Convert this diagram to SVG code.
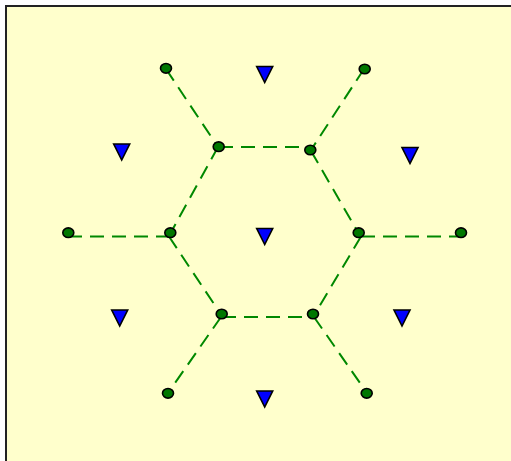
<svg xmlns="http://www.w3.org/2000/svg" width="511" height="461" viewBox="0 0 511 461">
<style>
.bg{fill:#ffffcc;stroke:#222;stroke-width:2}
.edge{stroke:#008800;stroke-width:2;stroke-dasharray:14 8;fill:none}
.pt{fill:#007700;stroke:#000;stroke-width:1.6}
.tri{fill:#0000ff;stroke:#000;stroke-width:1.6;stroke-linejoin:miter}
</style>
<defs>
<polygon id="tri" points="-8,0 8,0 0,16"/>
</defs>
<rect x="0" y="0" width="511" height="461" fill="#ffffff"/>
<rect class="bg" x="6" y="6" width="520" height="470"/>
<g id="connectors">
<line class="edge" x1="166" y1="69" x2="218" y2="147"/>
<line class="edge" x1="219" y1="147" x2="310" y2="147"/>
<line class="edge" x1="364" y1="69" x2="311" y2="150"/>
<line class="edge" x1="311" y1="151" x2="359" y2="234"/>
<line class="edge" x1="218" y1="147" x2="169" y2="236"/>
<line class="edge" x1="68" y1="236.5" x2="170" y2="236.5"/>
<line class="edge" x1="169" y1="236.5" x2="222" y2="316"/>
<line class="edge" x1="222" y1="317" x2="313" y2="317"/>
<line class="edge" x1="361" y1="236.5" x2="461" y2="236.5"/>
<line class="edge" x1="361" y1="236.5" x2="313" y2="317"/>
<line class="edge" x1="221" y1="317" x2="168" y2="393"/>
<line class="edge" x1="314" y1="317" x2="367" y2="393"/>
</g>
<g id="p1"><ellipse class="pt" cx="166" cy="68.3" rx="5.5" ry="4.8"/></g>
<g id="p2"><ellipse class="pt" cx="364.7" cy="69" rx="5.5" ry="4.8"/></g>
<g id="p3"><ellipse class="pt" cx="218.7" cy="146.7" rx="5.5" ry="4.8"/></g>
<g id="p4"><ellipse class="pt" cx="310.3" cy="150" rx="5.5" ry="4.8"/></g>
<g id="p5"><ellipse class="pt" cx="170.3" cy="232.7" rx="5.5" ry="4.8"/></g>
<g id="p6"><ellipse class="pt" cx="358.7" cy="232.7" rx="5.5" ry="4.8"/></g>
<g id="p7"><ellipse class="pt" cx="68.3" cy="232.7" rx="5.5" ry="4.8"/></g>
<g id="p8"><ellipse class="pt" cx="461" cy="232.7" rx="5.5" ry="4.8"/></g>
<g id="p9"><ellipse class="pt" cx="221.7" cy="314" rx="5.5" ry="4.8"/></g>
<g id="p10"><ellipse class="pt" cx="313" cy="314" rx="5.5" ry="4.8"/></g>
<g id="p11"><ellipse class="pt" cx="168" cy="393.3" rx="5.5" ry="4.8"/></g>
<g id="p12"><ellipse class="pt" cx="366.7" cy="393.3" rx="5.5" ry="4.8"/></g>
<g id="t1"><use href="#tri" class="tri" x="264.7" y="66.5"/></g>
<g id="t2"><use href="#tri" class="tri" x="121.7" y="144"/></g>
<g id="t3"><use href="#tri" class="tri" x="410" y="147.5"/></g>
<g id="t4"><use href="#tri" class="tri" x="264.7" y="228.5"/></g>
<g id="t5"><use href="#tri" class="tri" x="119.7" y="310"/></g>
<g id="t6"><use href="#tri" class="tri" x="402" y="310"/></g>
<g id="t7"><use href="#tri" class="tri" x="264.7" y="391"/></g>
</svg>
